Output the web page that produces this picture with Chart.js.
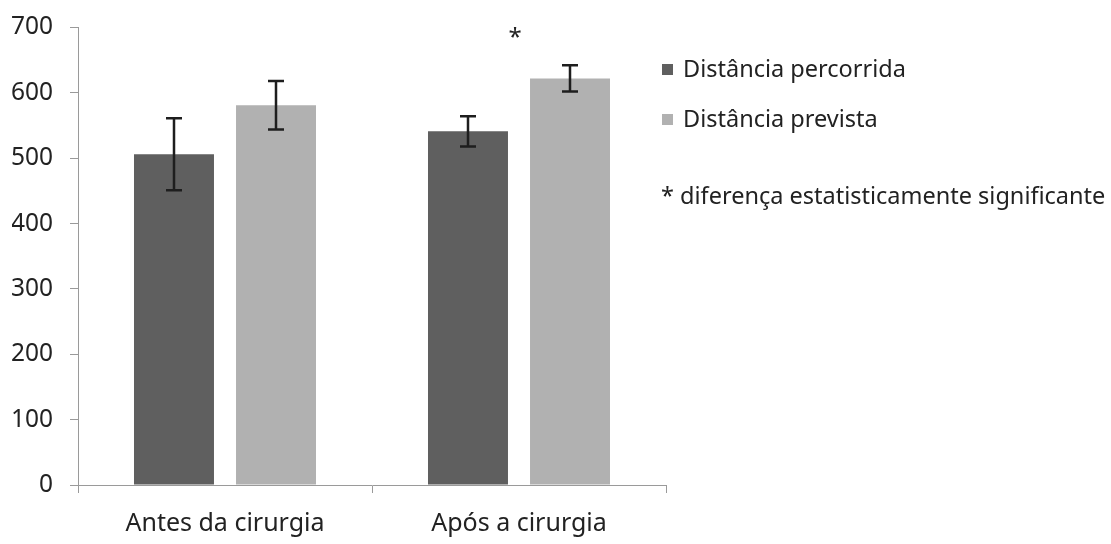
<!DOCTYPE html>
<html>
<head>
<meta charset="utf-8">
<script src="https://cdn.jsdelivr.net/npm/chart.js@4.4.1/dist/chart.umd.min.js"></script>
<style>
  html, body { margin: 0; padding: 0; background: #fff; }
  #wrap { width: 1111px; height: 544px; position: relative; }
</style>
</head>
<body>
<div id="wrap"><canvas id="chart"></canvas></div>
<script>
// dados
const categorias = ['Antes da cirurgia', 'Após a cirurgia'];
const percorrida = [506, 541];
const prevista = [581, 622];
const erroPercorrida = [55, 23];
const erroPrevista = [37, 20];
const yTicks = [0, 100, 200, 300, 400, 500, 600, 700];
const nomesSeries = ['Distância percorrida', 'Distância prevista'];
const notaRodape = '* diferença estatisticamente significante';
const asteriscoValor = 690; // posição do * sobre "Após a cirurgia"

const corEscura = '#5f5f5f';
const corClara = '#b1b1b1';
const corTexto = '#222222';
const corEixo = '#9a9a9a';
const fonte = '"Noto Sans", "Open Sans", sans-serif';

const ctx = document.getElementById('chart').getContext('2d');

// barras de erro + asterisco + legenda à direita
const extras = {
  id: 'extras',
  afterDatasetsDraw(chart) {
    const c = chart.ctx;
    const y = chart.scales.y;
    const erros = [erroPercorrida, erroPrevista];
    c.save();
    c.strokeStyle = '#1e1e1e';
    c.lineWidth = 2.5;
    chart.data.datasets.forEach((ds, di) => {
      const meta = chart.getDatasetMeta(di);
      meta.data.forEach((bar, i) => {
        const v = ds.data[i];
        const e = erros[di][i];
        const top = y.getPixelForValue(v + e);
        const bot = y.getPixelForValue(v - e);
        const x = Math.round(bar.x);
        c.beginPath();
        c.moveTo(x, top); c.lineTo(x, bot);
        c.moveTo(x - 8, top); c.lineTo(x + 8, top);
        c.moveTo(x - 8, bot); c.lineTo(x + 8, bot);
        c.stroke();
      });
    });
    // asterisco
    const xs = chart.scales.x.getPixelForValue(1);
    c.fillStyle = corTexto;
    c.font = '24px ' + fonte;
    c.textAlign = 'center';
    c.textBaseline = 'middle';
    c.fillText('*', xs - 4, y.getPixelForValue(asteriscoValor) + 4);

    // legenda
    const lx = 662;
    const linhas = [70, 120];
    c.font = '23.5px ' + fonte;
    c.textAlign = 'left';
    chart.data.datasets.forEach((ds, di) => {
      c.fillStyle = ds.backgroundColor;
      c.fillRect(lx, linhas[di] - 6, 11, 11);
      c.fillStyle = corTexto;
      c.fillText(nomesSeries[di], lx + 21, linhas[di]);
    });
    c.fillText(notaRodape, lx - 1, 197);
    c.restore();
  }
};

new Chart(ctx, {
  type: 'bar',
  data: {
    labels: categorias,
    datasets: [
      { label: nomesSeries[0], data: percorrida, backgroundColor: corEscura },
      { label: nomesSeries[1], data: prevista, backgroundColor: corClara }
    ]
  },
  options: {
    responsive: true,
    maintainAspectRatio: false,
    animation: false,
    events: [],
    categoryPercentage: 0.694,
    barPercentage: 0.784,
    layout: { padding: { left: 12, right: 445, top: 0, bottom: 0 } },
    scales: {
      x: {
        afterFit(scale) { scale.height = 59; },
        grid: {
          display: true,
          drawOnChartArea: false,
          tickLength: 8,
          color: corEixo,
          offset: true
        },
        border: { color: corEixo, width: 1 },
        ticks: {
          color: corTexto,
          font: { family: fonte, size: 25 },
          padding: 16
        }
      },
      y: {
        min: 0,
        max: 700,
        afterBuildTicks(axis) {
          axis.ticks = yTicks.map(v => ({ value: v }));
        },
        afterFit(scale) { scale.width = 66; },
        grid: {
          display: true,
          drawOnChartArea: false,
          tickLength: 8,
          color: corEixo
        },
        border: { color: corEixo, width: 1 },
        ticks: {
          color: corTexto,
          font: { family: fonte, size: 24.5, lineHeight: 0.85 },
          padding: 17
        }
      }
    },
    plugins: {
      legend: { display: false },
      tooltip: { enabled: false }
    }
  },
  plugins: [extras]
});
</script>
</body>
</html>
